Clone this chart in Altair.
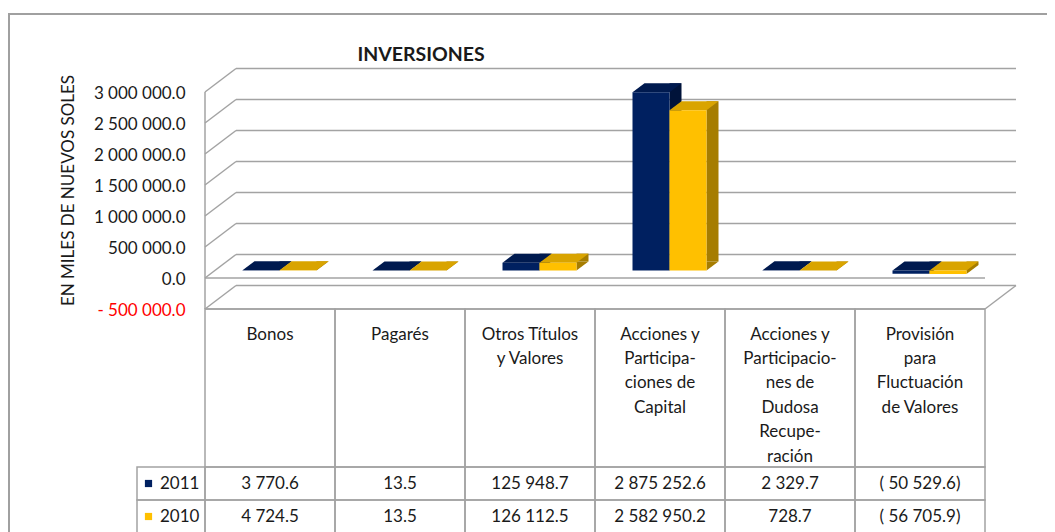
import altair as alt
import pandas as pd

# ---------------- data ----------------
categories = [
    "Bonos",
    "Pagarés",
    "Otros Títulos y Valores",
    "Acciones y Participaciones de Capital",
    "Acciones y Participaciones de Dudosa Recuperación",
    "Provisión para Fluctuación de Valores",
]
header_labels = [
    "Bonos",
    "Pagarés",
    "Otros Títulos\ny Valores",
    "Acciones y\nParticipa-\nciones de\nCapital",
    "Acciones y\nParticipacio-\nnes de\nDudosa\nRecupe-\nración",
    "Provisión\npara\nFluctuación\nde Valores",
]
years = ["2011", "2010"]
values_2011 = [3770.6, 13.5, 125948.7, 2875252.6, 2329.7, -50529.6]
values_2010 = [4724.5, 13.5, 126112.5, 2582950.2, 728.7, -56705.9]
tick_values = [-500000, 0, 500000, 1000000, 1500000, 2000000, 2500000, 3000000]

front_colors = ["#002060", "#FFC000"]
top_colors = ["#001A4F", "#D9A400"]
side_colors = ["#00133A", "#A67D00"]

# ---------------- layout (pixels) ----------------
PLOT_W = 780
FRONT_H = 217
DEPTH_X, DEPTH_Y = 31, -23.5
BAR_X, BAR_Y = 9.5, -7.5
BAR_W, BAR_DX, BAR_DY = 37, 12, -9
HEADER_TOP, HEADER_BOTTOM = 217, 375
ROWS_RANGE = [375, 441]
GRID = "#A3A3A3"
TXT = "#1A1A1A"
FONT = "Lato"

bars = pd.DataFrame(
    [{"category": c, "year": "2011", "value": v} for c, v in zip(categories, values_2011)]
    + [{"category": c, "year": "2010", "value": v} for c, v in zip(categories, values_2010)]
)
ticks = pd.DataFrame({"tick": tick_values})
header = pd.DataFrame({"category": categories, "label": header_labels})
years_df = pd.DataFrame({"year": years})

XS = alt.Scale(type="band", domain=categories, paddingInner=0, paddingOuter=0)
X = alt.X("category:N", scale=XS, axis=None)
VS = alt.Scale(domain=[-500000, 3000000], range=[FRONT_H, 0], nice=False, zero=False)
RS = alt.Scale(type="band", domain=years, range=ROWS_RANGE, paddingInner=0, paddingOuter=0)

num = "replace(format(abs(datum.value), ',.1f'), regexp(',', 'g'), ' ')"
label_expr = ("datum.value < 0 ? '- ' + replace(format(-datum.value, ',.1f'), regexp(',', 'g'), ' ')"
              " : replace(format(datum.value, ',.1f'), regexp(',', 'g'), ' ')")

layers = []

# outer frame
layers.append(
    alt.Chart(alt.Data(values=[{"f": 1}])).mark_rect(
        fill="white", fillOpacity=0, stroke="#A0A0A0", strokeWidth=2
    ).encode(x=alt.value(-196), x2=alt.value(900), y=alt.value(-78), y2=alt.value(500))
)

# back wall gridlines (carry the y axis)
layers.append(
    alt.Chart(ticks).mark_rule(
        color=GRID, strokeWidth=1.5, xOffset=DEPTH_X, x2Offset=DEPTH_X, yOffset=DEPTH_Y
    ).encode(
        x=alt.value(0), x2=alt.value(PLOT_W),
        y=alt.Y("tick:Q", scale=VS, axis=alt.Axis(
            values=tick_values, labelExpr=label_expr,
            labelColor={"condition": {"test": "datum.value < 0", "value": "#FF0000"}, "value": TXT},
            labelFont=FONT, labelFontSize=17, labelPadding=20, labelOffset=1,
            ticks=False, domain=False, grid=False,
            title="EN MILES DE NUEVOS SOLES", titleFont=FONT, titleFontSize=17,
            titleFontWeight="normal", titleColor=TXT, titleX=-137, titleY=98,
            titleAngle=270, titleAlign="center", titleBaseline="middle",
        )),
    )
)
# side wall diagonals
layers.append(
    alt.Chart(ticks).mark_rule(
        color=GRID, strokeWidth=1.5, x2Offset=DEPTH_X, y2Offset=DEPTH_Y
    ).encode(
        x=alt.value(0), x2=alt.value(0),
        y=alt.Y("tick:Q", scale=VS, axis=None), y2="tick:Q",
    )
)
# front left edge
layers.append(
    alt.Chart(ticks).mark_rule(color=GRID, strokeWidth=1.5).encode(
        x=alt.value(0),
        y=alt.Y("max(tick):Q", scale=VS, axis=None), y2="min(tick):Q",
    )
)
# floor front edges (0 and minimum)
layers.append(
    alt.Chart(ticks).transform_filter("datum.tick <= 0").mark_rule(color=GRID, strokeWidth=1.5).encode(
        x=alt.value(0), x2=alt.value(PLOT_W),
        y=alt.Y("tick:Q", scale=VS, axis=None),
    )
)
# floor right diagonal
layers.append(
    alt.Chart(ticks).transform_filter("datum.tick < 0").mark_rule(
        color=GRID, strokeWidth=1.5, x2Offset=DEPTH_X, y2Offset=DEPTH_Y
    ).encode(
        x=alt.value(PLOT_W), x2=alt.value(PLOT_W),
        y=alt.Y("tick:Q", scale=VS, axis=None), y2="tick:Q",
    )
)

# 3D bars
hw = BAR_W / 2
TOP_PATH = f"M {-hw} 0 L {hw} 0 L {hw + BAR_DX} {BAR_DY} L {-hw + BAR_DX} {BAR_DY} Z"
TRI_PATH = f"M {hw} 0 L {hw} {BAR_DY} L {hw + BAR_DX} {BAR_DY} Z"
for i, yr in enumerate(years):
    off = BAR_X + (-hw if i == 0 else hw)
    base = alt.Chart(bars).transform_filter(f"datum.year == '{yr}'").transform_calculate(
        top="max(datum.value, 0)", bot="min(datum.value, 0)"
    )
    # side face
    layers.append(
        base.mark_bar(
            width=BAR_DX, xOffset=off + hw + BAR_DX / 2,
            yOffset=BAR_Y + BAR_DY, y2Offset=BAR_Y + BAR_DY, color=side_colors[i]
        ).encode(x=X, y=alt.Y("value:Q", scale=VS, axis=None), y2=alt.Y2(datum=0))
    )
    layers.append(
        base.mark_point(
            shape=TRI_PATH, size=4, filled=True, opacity=1, strokeWidth=0,
            color=side_colors[i], xOffset=off, yOffset=BAR_Y
        ).encode(x=X, y=alt.Y("bot:Q", scale=VS, axis=None))
    )
    # top face
    layers.append(
        base.mark_point(
            shape=TOP_PATH, size=4, filled=True, opacity=1, strokeWidth=0,
            color=top_colors[i], xOffset=off, yOffset=BAR_Y
        ).encode(x=X, y=alt.Y("top:Q", scale=VS, axis=None))
    )
    # front face
    layers.append(
        base.mark_bar(
            width=BAR_W, xOffset=off, yOffset=BAR_Y, y2Offset=BAR_Y, color=front_colors[i]
        ).encode(x=X, y=alt.Y("value:Q", scale=VS, axis=None), y2=alt.Y2(datum=0))
    )

# data table: header cells
layers.append(
    alt.Chart(header).mark_rect(fill="white", fillOpacity=0, stroke=GRID, strokeWidth=1.5).encode(
        x=X, y=alt.value(HEADER_TOP), y2=alt.value(HEADER_BOTTOM)
    )
)
layers.append(
    alt.Chart(header).mark_text(
        font=FONT, fontSize=17, color=TXT, lineBreak="\n", lineHeight=24.4, baseline="top"
    ).encode(x=X, y=alt.value(HEADER_TOP + 17.5), text="label:N")
)
# data cells
layers.append(
    alt.Chart(bars).mark_rect(fill="white", fillOpacity=0, stroke=GRID, strokeWidth=1.5).encode(
        x=X, y=alt.Y("year:N", scale=RS, axis=None)
    )
)
layers.append(
    alt.Chart(bars).transform_calculate(
        txt=f"datum.value < 0 ? '( ' + {num} + ')' : {num}"
    ).mark_text(font=FONT, fontSize=17, color=TXT, baseline="middle").encode(
        x=X, y=alt.Y("year:N", scale=RS, axis=None), text="txt:N"
    )
)
# legend column
layers.append(
    alt.Chart(years_df).mark_rect(fill="white", fillOpacity=0, stroke=GRID, strokeWidth=1.5).encode(
        x=alt.value(-68), x2=alt.value(0), y=alt.Y("year:N", scale=RS, axis=None)
    )
)
layers.append(
    alt.Chart(years_df).mark_square(size=52, opacity=1, filled=True).encode(
        x=alt.value(-56.5), y=alt.Y("year:N", scale=RS, axis=None),
        color=alt.Color("year:N", scale=alt.Scale(domain=years, range=front_colors), legend=None),
    )
)
layers.append(
    alt.Chart(years_df).mark_text(font=FONT, fontSize=17, color=TXT, align="left", baseline="middle").encode(
        x=alt.value(-45), y=alt.Y("year:N", scale=RS, axis=None), text="year:N"
    )
)
# chart title
layers.append(
    alt.Chart(alt.Data(values=[{"t": "INVERSIONES"}])).mark_text(
        font=FONT, fontSize=19.5, fontWeight="bold", color=TXT, baseline="middle"
    ).encode(x=alt.value(216), y=alt.value(-37), text="t:N")
)

chart = alt.layer(*layers).resolve_scale(y="independent").properties(
    width=PLOT_W, height=440,
    padding={"left": 197, "top": 84, "right": 62, "bottom": 0},
    autosize=alt.AutoSizeParams(type="none"),
    background="white",
).configure_view(stroke=None)

chart.save("out.html", embed_options={"renderer": "svg", "actions": False})
